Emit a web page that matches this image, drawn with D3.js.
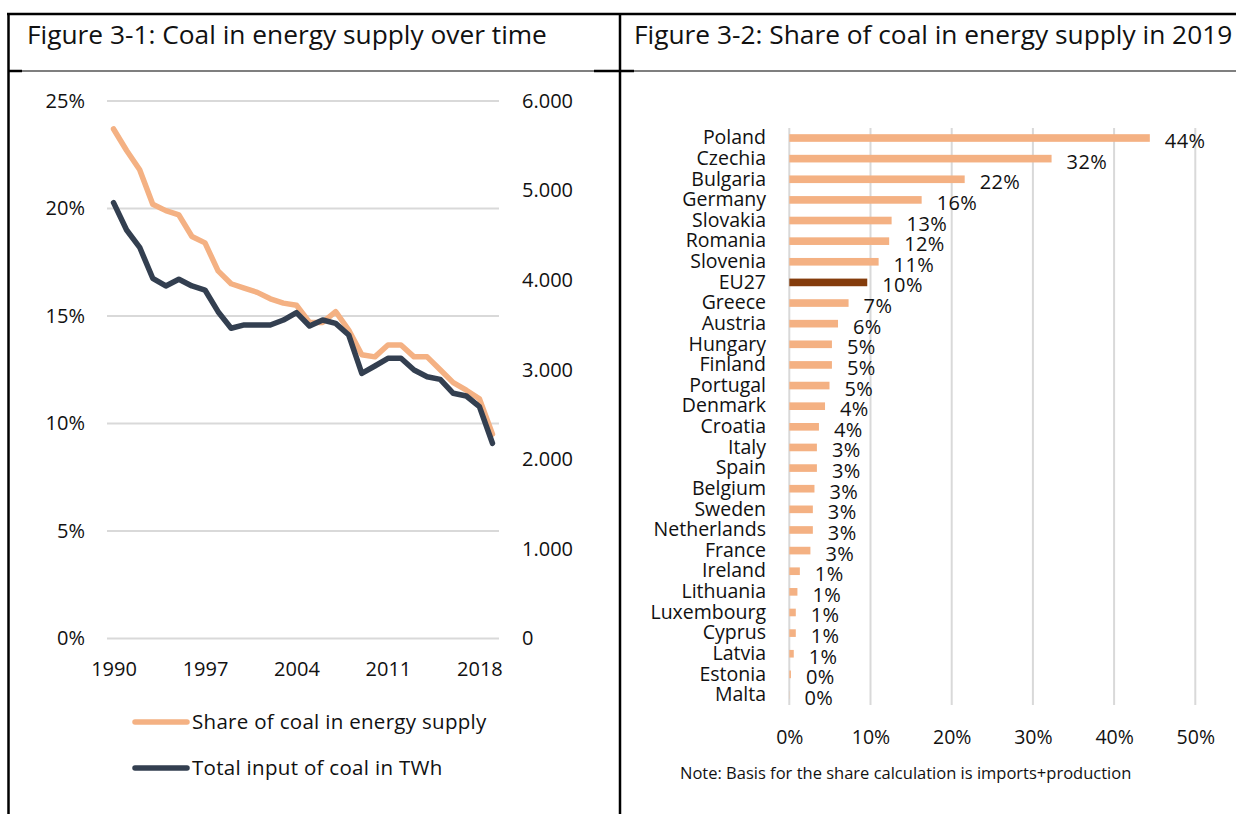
<!DOCTYPE html>
<html>
<head>
<meta charset="utf-8">
<script src="https://cdn.jsdelivr.net/npm/d3@7"></script>
<style>
  body { margin: 0; background: #fff; }
  svg { font-family: "Open Sans", "Noto Sans", sans-serif; }
  text { fill: #111; }
</style>
</head>
<body>
<div id="chart"></div>
<script>
// ---- data: figure 3-1 (coal over time) ----
const years = d3.range(1990, 2020)
const shareCoal = [23.7, 22.7, 21.8, 20.2, 19.9, 19.7, 18.7, 18.4, 17.1, 16.5,
                   16.3, 16.1, 15.8, 15.6, 15.5, 14.7, 14.7, 15.2, 14.35, 13.2,
                   13.1, 13.65, 13.65, 13.1, 13.1, 12.5, 11.9, 11.55, 11.15, 9.5]
const coalTWh = [4865, 4560, 4367, 4021, 3935, 4010, 3935, 3890, 3648, 3463,
                 3500, 3500, 3500, 3555, 3637, 3488, 3555, 3518, 3388, 2960,
                 3042, 3128, 3128, 2997, 2922, 2893, 2737, 2707, 2588, 2179]
const yearTicks = [1990, 1997, 2004, 2011, 2018]
const shareTicks = [0, 5, 10, 15, 20, 25]
const twhTicks = [0, 1000, 2000, 3000, 4000, 5000, 6000]

// ---- data: figure 3-2 (share of coal by country, 2019) ----
const countries = ["Poland", "Czechia", "Bulgaria", "Germany", "Slovakia", "Romania", "Slovenia",
                   "EU27", "Greece", "Austria", "Hungary", "Finland", "Portugal", "Denmark",
                   "Croatia", "Italy", "Spain", "Belgium", "Sweden", "Netherlands", "France",
                   "Ireland", "Lithuania", "Luxembourg", "Cyprus", "Latvia", "Estonia", "Malta"]
const countryShare = [44.4, 32.3, 21.6, 16.3, 12.6, 12.3, 11.0,
                      9.6, 7.3, 6.0, 5.25, 5.25, 4.95, 4.4,
                      3.65, 3.4, 3.4, 3.1, 2.9, 2.9, 2.6,
                      1.3, 1.0, 0.8, 0.8, 0.55, 0.2, 0.02]
const pctTicks = [0, 10, 20, 30, 40, 50]

const W = 1236, H = 814
const orange = "#F4B183", navy = "#333F50", eu = "#843C0C", grid = "#d9d9d9"

const svg = d3.select("#chart").append("svg")
    .attr("width", W)
    .attr("height", H)

// ---- frame ----
const frame = svg.append("g").attr("stroke", "#000").attr("fill", "none")
frame.append("line").attr("x1", 7).attr("x2", W).attr("y1", 14).attr("y2", 14).attr("stroke-width", 2.5)
frame.append("line").attr("x1", 8.5).attr("x2", 8.5).attr("y1", 13).attr("y2", H).attr("stroke-width", 2.5)
frame.append("line").attr("x1", 620).attr("x2", 620).attr("y1", 13).attr("y2", H).attr("stroke-width", 2.5)
frame.append("line").attr("x1", 8).attr("x2", W).attr("y1", 71).attr("y2", 71).attr("stroke-width", 1.2)
frame.append("line").attr("x1", 8).attr("x2", 22).attr("y1", 71).attr("y2", 71).attr("stroke-width", 2.5)
frame.append("line").attr("x1", 594).attr("x2", 634).attr("y1", 71).attr("y2", 71).attr("stroke-width", 2.5)

svg.append("text").attr("x", 27).attr("y", 44).attr("font-size", 26.3).text("Figure 3-1: Coal in energy supply over time")
svg.append("text").attr("x", 634).attr("y", 44).attr("font-size", 26.3).text("Figure 3-2: Share of coal in energy supply in 2019")

// ---- left chart ----
let x1 = d3.scalePoint().domain(years).range([107, 499]).padding(0.5)
let yShare = d3.scaleLinear().domain([0, 25]).range([638.5, 101])
let yTwh = d3.scaleLinear().domain([0, 6000]).range([638.5, 101])

const left = svg.append("g")

left.selectAll(".hgrid")
    .data(shareTicks)
    .enter().append("line")
    .attr("x1", 107).attr("x2", 499)
    .attr("y1", d => yShare(d)).attr("y2", d => yShare(d))
    .attr("stroke", grid).attr("stroke-width", 2)

let axisShare = d3.axisLeft(yShare).tickValues(shareTicks).tickSize(0).tickPadding(0).tickFormat(d => d + "%")
left.append("g").attr("transform", "translate(85,0)").call(axisShare)

let de = d3.formatLocale({decimal: ",", thousands: ".", grouping: [3], currency: ["", "€"]})
let axisTwh = d3.axisRight(yTwh).tickValues(twhTicks).tickSize(0).tickPadding(0).tickFormat(de.format(",d"))
left.append("g").attr("transform", "translate(522,0)").call(axisTwh)

let axisYears = d3.axisBottom(x1).tickValues(yearTicks).tickSize(0).tickPadding(0)
left.append("g").attr("transform", "translate(0,662)").call(axisYears)

left.selectAll(".domain").remove()
left.selectAll("g").attr("font-family", null)
left.selectAll(".tick text").attr("font-size", 20).attr("fill", "#111")

let shareLine = d3.line().x((d, i) => x1(years[i])).y(d => yShare(d))
let twhLine = d3.line().x((d, i) => x1(years[i])).y(d => yTwh(d))

left.append("path").datum(shareCoal)
    .attr("d", shareLine)
    .attr("fill", "none").attr("stroke", orange).attr("stroke-width", 5.5)
    .attr("stroke-linejoin", "round").attr("stroke-linecap", "round")

left.append("path").datum(coalTWh)
    .attr("d", twhLine)
    .attr("fill", "none").attr("stroke", navy).attr("stroke-width", 5.5)
    .attr("stroke-linejoin", "round").attr("stroke-linecap", "round")

// legend
const legendItems = [
    {label: "Share of coal in energy supply", color: orange, y: 722},
    {label: "Total input of coal in TWh", color: navy, y: 768}
]
let lg = left.selectAll(".legend").data(legendItems).enter().append("g")
lg.append("line")
    .attr("x1", 135).attr("x2", 187)
    .attr("y1", d => d.y).attr("y2", d => d.y)
    .attr("stroke", d => d.color).attr("stroke-width", 5.5).attr("stroke-linecap", "round")
lg.append("text")
    .attr("x", 192).attr("y", d => d.y).attr("dy", "0.35em")
    .attr("font-size", 20.5)
    .attr("letter-spacing", 0.3)
    .text(d => d.label)

// ---- right chart ----
let x2 = d3.scaleLinear().domain([0, 50]).range([789.3, 1195.3])
let y2 = d3.scaleBand().domain(countries).range([128, 705]).paddingInner(0.63).paddingOuter(0.3)

const right = svg.append("g")

right.selectAll(".vgrid")
    .data(pctTicks)
    .enter().append("line")
    .attr("x1", d => x2(d)).attr("x2", d => x2(d))
    .attr("y1", 128).attr("y2", 705)
    .attr("stroke", grid).attr("stroke-width", 2)

const barData = countries.map((c, i) => ({country: c, value: countryShare[i]}))

right.selectAll(".bar")
    .data(barData)
    .enter().append("rect")
    .attr("x", x2(0))
    .attr("y", d => y2(d.country))
    .attr("width", d => x2(d.value) - x2(0))
    .attr("height", y2.bandwidth())
    .attr("fill", d => d.country === "EU27" ? eu : orange)

right.selectAll(".vlabel")
    .data(barData)
    .enter().append("text")
    .attr("x", d => x2(d.value) + 15)
    .attr("y", d => y2(d.country) + y2.bandwidth() / 2 + 3)
    .attr("dy", "0.35em")
    .attr("font-size", 20)
    .attr("letter-spacing", 0.4)
    .text(d => Math.round(d.value) + "%")

let axisCountry = d3.axisLeft(y2).tickSize(0).tickPadding(0)
right.append("g").attr("transform", "translate(766,0)").call(axisCountry)

let axisPct = d3.axisBottom(x2).tickValues(pctTicks).tickSize(0).tickPadding(0).tickFormat(d => d + "%")
right.append("g").attr("transform", "translate(0,730)").call(axisPct)

right.selectAll(".domain").remove()
right.selectAll("g").attr("font-family", null)
right.selectAll(".tick text").attr("font-size", 19.5).attr("fill", "#111")

svg.append("text").attr("x", 680).attr("y", 779).attr("font-size", 16.5)
    .text("Note: Basis for the share calculation is imports+production")
</script>
</body>
</html>
